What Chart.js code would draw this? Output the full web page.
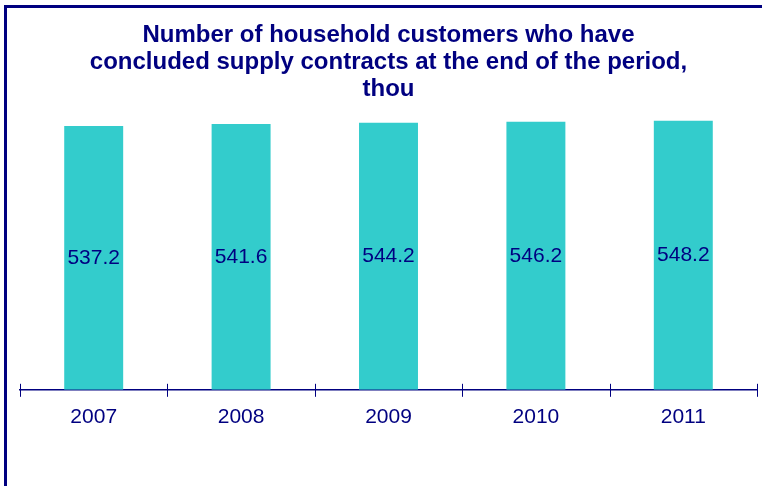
<!DOCTYPE html>
<html>
<head>
<meta charset="utf-8">
<script src="https://cdn.jsdelivr.net/npm/chart.js@4"></script>
<style>
  html, body { margin: 0; padding: 0; overflow: hidden; background: #fff; }
  #frame { position: absolute; left: 4px; top: 5px; width: 900px; height: 900px;
           border-left: 3px solid #000080; border-top: 3px solid #000080; }
  #consChart { position: absolute; left: 0; top: 0; }
</style>
</head>
<body>
<div id="frame"></div>
<canvas id="consChart" width="762" height="486"></canvas>
<script>
// Données
const years = ["2007", "2008", "2009", "2010", "2011"];
const customers = [537.2, 541.6, 544.2, 546.2, 548.2];
const titleLines = [
  "Number of household customers who have",
  "concluded supply contracts at the end of the period,",
  "thou"
];

const navy = "#000080";

// étiquettes au milieu des barres
const valueLabels = {
  id: "valueLabels",
  afterDatasetsDraw(chart) {
    const ctx = chart.ctx;
    const meta = chart.getDatasetMeta(0);
    ctx.save();
    ctx.font = "21px 'Liberation Sans', Arial, sans-serif";
    ctx.fillStyle = navy;
    ctx.textAlign = "center";
    ctx.textBaseline = "middle";
    meta.data.forEach((bar, i) => {
      ctx.fillText(customers[i].toFixed(1), bar.x, (bar.y + bar.base) / 2);
    });
    ctx.restore();
  }
};

// petites graduations de part et d'autre de l'axe
const axisTicks = {
  id: "axisTicks",
  afterDraw(chart) {
    const x = chart.scales.x;
    const ctx = chart.ctx;
    const step = x.width / years.length;
    ctx.save();
    ctx.strokeStyle = navy;
    ctx.lineWidth = 1;
    for (let i = 0; i <= years.length; i++) {
      const px = Math.round(x.left + i * step) + 0.5;
      ctx.beginPath();
      ctx.moveTo(px, x.top - 6);
      ctx.lineTo(px, x.top + 7);
      ctx.stroke();
    }
    ctx.restore();
  }
};

try {
  const ctx = document.getElementById("consChart");
  new Chart(ctx, {
    type: "bar",
    data: {
      labels: years,
      datasets: [
        {
          data: customers,
          backgroundColor: "#33CCCC",
          borderWidth: 0,
          barPercentage: 0.4,
          categoryPercentage: 1.0,
        },
      ],
    },
    options: {
      responsive: false,
      animation: false,
      layout: { padding: { left: 20, right: 5, top: 22, bottom: 41 } },
      plugins: {
        legend: { display: false },
        tooltip: { enabled: false },
        title: {
          display: true,
          text: titleLines,
          color: navy,
          font: { family: "'Liberation Sans', Arial, sans-serif", size: 24, weight: "bold", lineHeight: 1.125 },
          padding: { top: 0, bottom: 5 },
        },
      },
      scales: {
        x: {
          grid: { display: false, drawTicks: false },
          border: { display: true, color: navy, width: 1.5 },
          ticks: {
            color: navy,
            padding: 15,
            font: { family: "'Liberation Sans', Arial, sans-serif", size: 21 },
          },
        },
        y: {
          display: false,
          min: 0,
          max: 574,
        },
      },
    },
    plugins: [valueLabels, axisTicks],
  });
} catch (error) {
  console.error("Erreur graphique:", error);
}
</script>
</body>
</html>
